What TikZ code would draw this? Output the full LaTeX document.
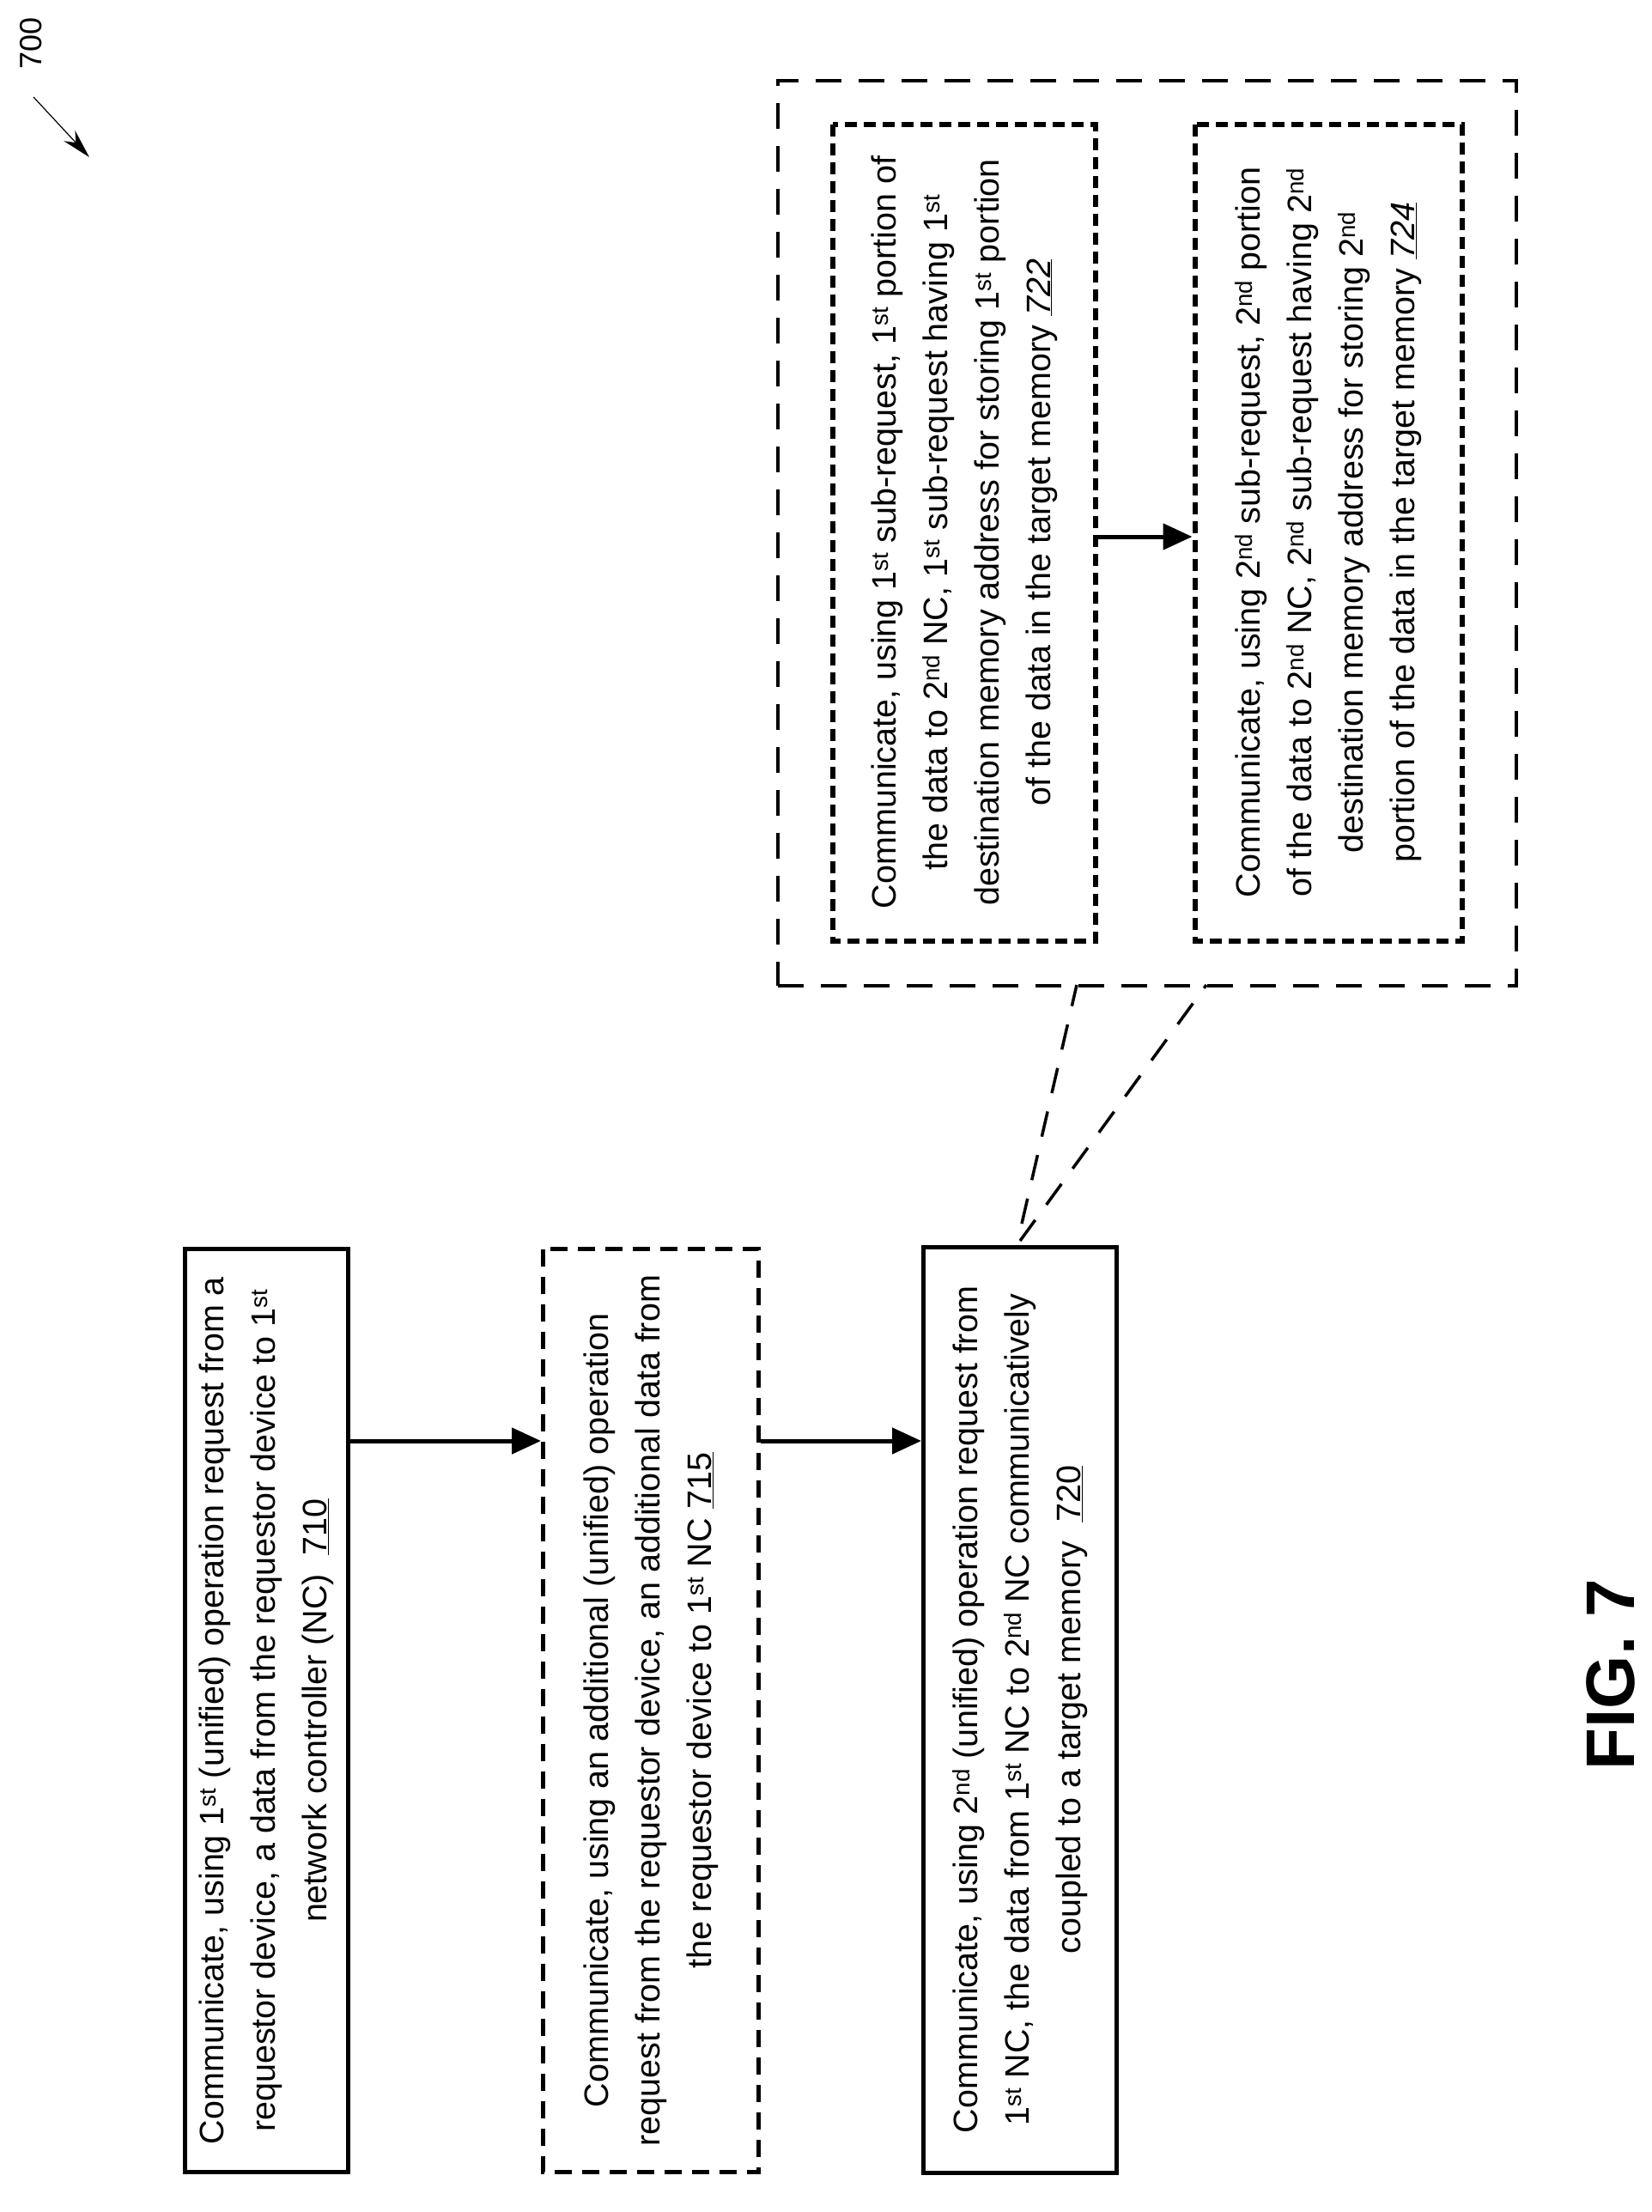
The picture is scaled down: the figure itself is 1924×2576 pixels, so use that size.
\documentclass[tikz,border=0pt]{standalone}
\usepackage{fontspec}
\setmainfont{Liberation Sans}
\usetikzlibrary{arrows.meta,calc}
\begin{document}
\begin{tikzpicture}[x=1pt,y=-1pt,
  box/.style={draw,line width=5pt,rotate=90,align=center,inner sep=0pt,font=\fontsize{39.5}{60}\selectfont},
  dbox/.style={box,dash pattern=on 20pt off 12pt},
  ddbox/.style={box,line width=6pt,dash pattern=on 14pt off 8pt},
  arr/.style={line width=5pt,-{Triangle[length=34pt,width=30pt]}},
  call/.style={line width=3.5pt,dash pattern=on 30pt off 22pt}]
\useasboundingbox (0,0) rectangle (1924,2576);
\node[box,minimum width=1075pt,minimum height=190pt] (b710) at (310,1992)
 {Communicate, using 1\textsuperscript{st} (unified) operation request from a\\requestor device, a data from the requestor device to 1\textsuperscript{st}\\network controller (NC)~~\underline{710}};
\node[dbox,minimum width=1075pt,minimum height=251pt] (b715) at (758,1992)
 {Communicate, using an additional (unified) operation\\request from the requestor device, an additional data from\\the requestor device to 1\textsuperscript{st} NC \underline{715}};
\node[box,minimum width=1078pt,minimum height=225pt] (b720) at (1188,1991)
 {Communicate, using 2\textsuperscript{nd} (unified) operation request from\\1\textsuperscript{st} NC, the data from 1\textsuperscript{st} NC to 2\textsuperscript{nd} NC communicatively\\coupled to a target memory~~\underline{720}};
\node[draw,line width=4pt,dash pattern=on 30pt off 20pt,minimum width=860pt,minimum height=1054pt,inner sep=0pt] (outer) at (1336,621) {};
\node[ddbox,minimum width=951pt,minimum height=306pt] (b722) at (1123,620)
 {Communicate, using 1\textsuperscript{st} sub-request, 1\textsuperscript{st} portion of\\the data to 2\textsuperscript{nd} NC, 1\textsuperscript{st} sub-request having 1\textsuperscript{st}\\destination memory address for storing 1\textsuperscript{st} portion\\of the data in the target memory \underline{\textit{722}}};
\node[ddbox,minimum width=951pt,minimum height=311pt] (b724) at (1547,620)
 {Communicate, using 2\textsuperscript{nd} sub-request, 2\textsuperscript{nd} portion\\of the data to 2\textsuperscript{nd} NC, 2\textsuperscript{nd} sub-request having 2\textsuperscript{nd}\\destination memory address for storing 2\textsuperscript{nd}\\portion of the data in the target memory \underline{\textit{724}}};
\coordinate (r1) at (0,1678);
\coordinate (r2) at (0,625);
\draw[arr] (b710.south |- r1) -- (b715.north |- r1);
\draw[arr] (b715.south |- r1) -- (b720.north |- r1);
\draw[arr] (b722.south |- r2) -- (b724.north |- r2);
\coordinate (c0) at (1188,1445);
\coordinate (c0b) at (1190,1425);
\coordinate (c1) at (1254,1147);
\coordinate (c2) at (1405,1147);
\draw[call] (c0b) -- (c1);
\draw[call] (c0) -- (c2);
\node[rotate=90,font=\fontsize{36}{40}\selectfont] (n700) at (36,50) {700};
\coordinate (a700) at (104,183);
\draw[line width=1.2pt,-{Stealth[length=34pt,width=18pt]}] (39,113) -- (a700);
\node[rotate=90,font=\bfseries\fontsize{80}{90}\selectfont] (fig) at (1876,1950) {FIG. 7};
\end{tikzpicture}
\end{document}
